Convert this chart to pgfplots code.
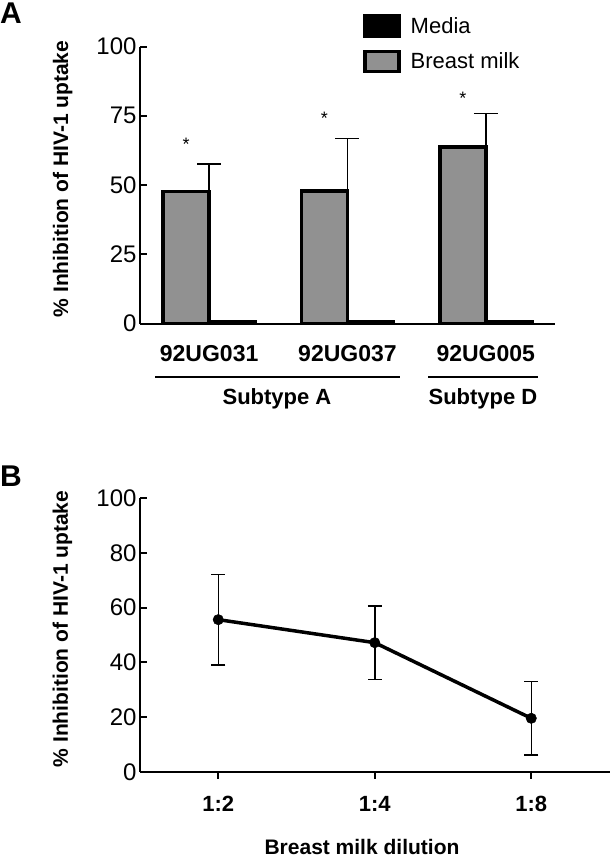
\documentclass[border=0pt]{standalone}
\usepackage{pgfplots}
\pgfplotsset{compat=1.18}
\usepackage{fontspec}
\setmainfont{Liberation Sans}
\definecolor{barg}{RGB}{145,145,145}
\newcommand{\fs}[1]{\fontsize{#1}{#1}\selectfont}
\pgfplotsset{
  boxlegend/.style={legend image code/.code={\draw[##1] (0pt,-10pt) rectangle (34pt,10pt);}},
  common/.style={
    /pgf/number format/assume math mode=true,
    axis lines=left,
    axis line style={-, line width=2pt},
    tick align=inside,
    major tick length=7pt,
    tick style={line width=2pt, black},
    minor tick num=0,
    yticklabel style={font=\fs{24}},
    clip=false,
  }
}
\begin{document}
\begin{tikzpicture}
\useasboundingbox (0pt,0pt) rectangle (610pt,858pt);

% ---------- Panel A ----------
\begin{axis}[common,
  at={(140pt,534.4pt)}, anchor=south west,
  x=138.3pt, y=2.77pt,
  xmin=0.5, xmax=3.5, ymin=0, ymax=100,
  ytick={0,25,50,75,100},
  xtick={1,2,3}, xticklabels={92UG031,92UG037,92UG005},
  major x tick style={draw=none},
  xticklabel style={font=\bfseries\fs{23}, anchor=base, yshift=-38pt},
  ylabel={\% Inhibition of HIV-1 uptake},
  ylabel style={font=\bfseries\fs{21}, at={(axis description cs:-0.1735,0.522)}, anchor=base},
  legend style={at={(axis description cs:0.5375,1.1177)}, anchor=north west,
    draw=none, fill=none, inner sep=0pt, row sep=12pt, font=\fs{22},
    /tikz/every odd column/.append style={column sep=8pt}},
  legend cell align=left,
]
\addplot[ybar, bar width=46pt, bar shift=23pt, fill=black, draw=black, line width=3.5pt, boxlegend]
  coordinates {(1,0.8) (2,0.8) (3,0.8)};
\addplot[ybar, bar width=46pt, bar shift=-23pt, fill=barg, draw=black, line width=3.5pt, boxlegend,
  error bars/.cd, y dir=plus, y explicit,
  error bar style={line width=1.5pt, black},
  error mark options={rotate=90, mark size=12pt, line width=1.5pt, black}]
  coordinates {(1,47.6) +- (0,10.0) (2,47.9) +- (0,18.9) (3,63.7) +- (0,12.1)};
\legend{Media, Breast milk}
\node[font=\fs{18}, anchor=base, xshift=-23pt] at (axis cs:1,62.5) {*};
\node[font=\fs{18}, anchor=base, xshift=-23pt] at (axis cs:2,71.7) {*};
\node[font=\fs{18}, anchor=base, xshift=-23pt] at (axis cs:3,79.1) {*};
\end{axis}

% subtype brackets
\draw[line width=2pt] (155pt,481pt) -- (400pt,481pt);
\draw[line width=2pt] (428pt,481pt) -- (538pt,481pt);
\node[font=\bfseries\fs{22}, anchor=base] at (277pt,453pt) {Subtype A};
\node[font=\bfseries\fs{22}, anchor=base] at (483pt,453pt) {Subtype D};

% panel letters
\node[font=\bfseries\fs{30}, anchor=base west, inner sep=0pt] at (0pt,834.7pt) {A};
\node[font=\bfseries\fs{30}, anchor=base west, inner sep=0pt] at (0pt,371.3pt) {B};

% ---------- Panel B ----------
\begin{axis}[common,
  at={(140pt,86pt)}, anchor=south west,
  x=156.5pt, y=2.74pt,
  xmin=0.5, xmax=3.5, ymin=0, ymax=100,
  ytick={0,20,40,60,80,100},
  xtick={1,2,3}, xticklabels={1:2,1:4,1:8},
  major x tick style={yshift=-7pt},
  xticklabel style={font=\bfseries\fs{22}, anchor=base, yshift=-39.7pt},
  ylabel={\% Inhibition of HIV-1 uptake},
  ylabel style={font=\bfseries\fs{21}, at={(axis description cs:-0.1534,0.522)}, anchor=base},
]
\addplot[black, line width=3.5pt, mark=*, mark size=5.2pt, mark options={solid, line width=0.5pt, fill=black},
  error bars/.cd, y dir=both, y explicit,
  error bar style={line width=1.5pt, black},
  error mark options={rotate=90, mark size=7pt, line width=1.5pt, black}]
  coordinates {(1,55.6) +- (0,16.5) (2,47.2) +- (0,13.4) (3,19.6) +- (0,13.4)};
\end{axis}
\node[font=\bfseries\fs{21}, anchor=base] at (362pt,4pt) {Breast milk dilution};
\end{tikzpicture}
\end{document}
